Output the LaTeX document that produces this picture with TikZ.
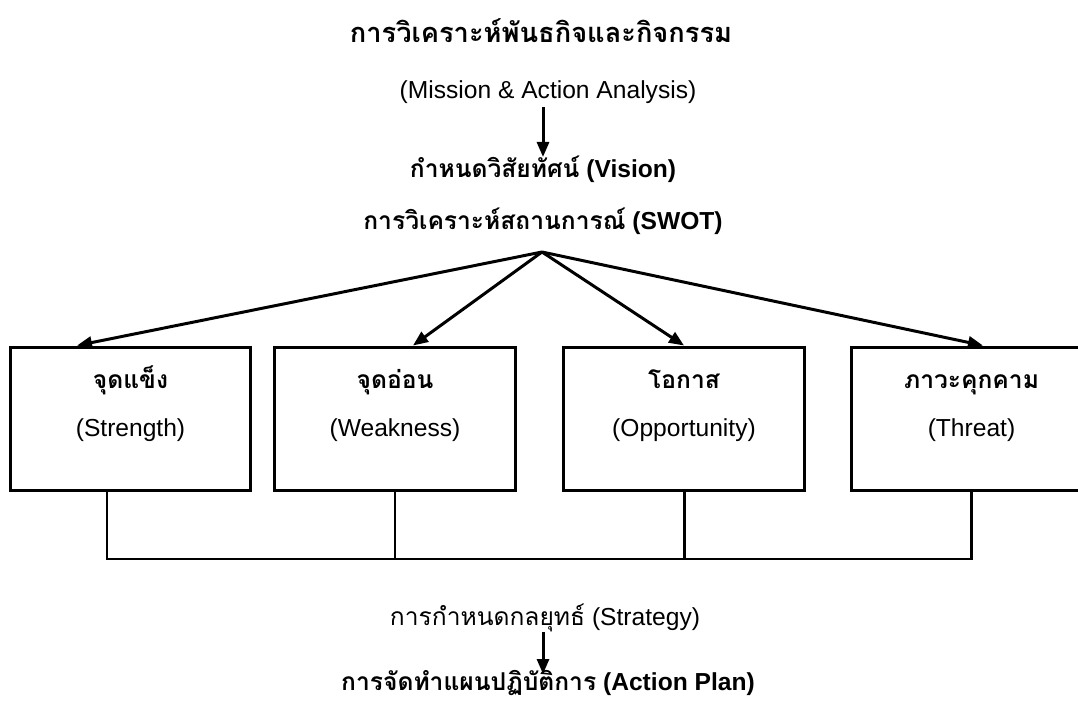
\documentclass[tikz,border=0pt]{standalone}
\usepackage{fontspec}
\setmainfont{Liberation Sans}
\newfontfamily\thaifont[Script=Thai]{Loma}
\newcommand{\thaitxt}[1]{{\thaifont #1}}
\usetikzlibrary{arrows.meta}

\begin{document}
\begin{tikzpicture}[x=0.02cm,y=-0.02cm]
	\tikzstyle{txt}=[inner sep=0pt,anchor=base,font=\fontsize{14}{17}\selectfont]
	\tikzstyle{txtb}=[txt,font=\fontsize{14}{17}\selectfont\bfseries]
	\tikzstyle{swotbox}=[draw,line width=1.7pt,minimum width=4.82cm,minimum height=2.88cm]
	\tikzstyle{edge}=[draw,line width=1.7pt,-{Triangle[length=0.3cm,width=0.24cm]}]
	\tikzstyle{line}=[draw,line width=1.7pt]
	\clip (0,0) rectangle (1078,702);
	% top
	\node [txtb,font=\fontsize{15.5}{18}\selectfont\bfseries] (mission) at (541,43) {\thaitxt{การวิเคราะห์พันธกิจและกิจกรรม}};
	\node [txt] (missionen) at (548,99) {(Mission \& Action Analysis)};
	\node [txtb] (vision) at (543,178) {\thaitxt{กำหนดวิสัยทัศน์} (Vision)};
	\node [txtb] (swot) at (543,230) {\thaitxt{การวิเคราะห์สถานการณ์} (SWOT)};
	\coordinate (apex) at (542,252);
	\path[edge] (543,107) -- (543,157);
	% SWOT boxes
	\node [swotbox] (s1) at (130.5,419) {};
	\node [swotbox] (s2) at (395,419) {};
	\node [swotbox] (s3) at (684,419) {};
	\node [swotbox] (s4) at (971.5,419) {};
	\node [txtb] at (130.5,388) {\thaitxt{จุดแข็ง}};
	\node [txt] at (130.5,436) {(Strength)};
	\node [txtb] at (395,388) {\thaitxt{จุดอ่อน}};
	\node [txt] at (395,436) {(Weakness)};
	\node [txtb] at (684,388) {\thaitxt{โอกาส}};
	\node [txt] at (684,436) {(Opportunity)};
	\node [txtb] at (971.5,388) {\thaitxt{ภาวะคุกคาม}};
	\node [txt] at (971.5,436) {(Threat)};
	\path[edge] (apex) -- ([xshift=-1.07cm]s1.north);
	\path[edge] (apex) -- ([xshift=0.36cm]s2.north);
	\path[edge] (apex) -- (s3.north);
	\path[edge] (apex) -- ([xshift=0.23cm]s4.north);
	% bus
	\coordinate (bus) at (0,559);
	\draw[line] ([xshift=-0.47cm]s1.south) |- (s4.south |- bus) -- (s4.south);
	\draw[line] (s2.south) -- (s2.south |- bus);
	\draw[line] (s3.south) -- (s3.south |- bus);
	% bottom
	\node [txt] (strategy) at (545,625) {\thaitxt{การกำหนดกลยุทธ์} (Strategy)};
	\node [txtb] (plan) at (548,690) {\thaitxt{การจัดทำแผนปฏิบัติการ} (Action Plan)};
	\path[edge] (543,632) -- (543,674);
\end{tikzpicture}
\end{document}
